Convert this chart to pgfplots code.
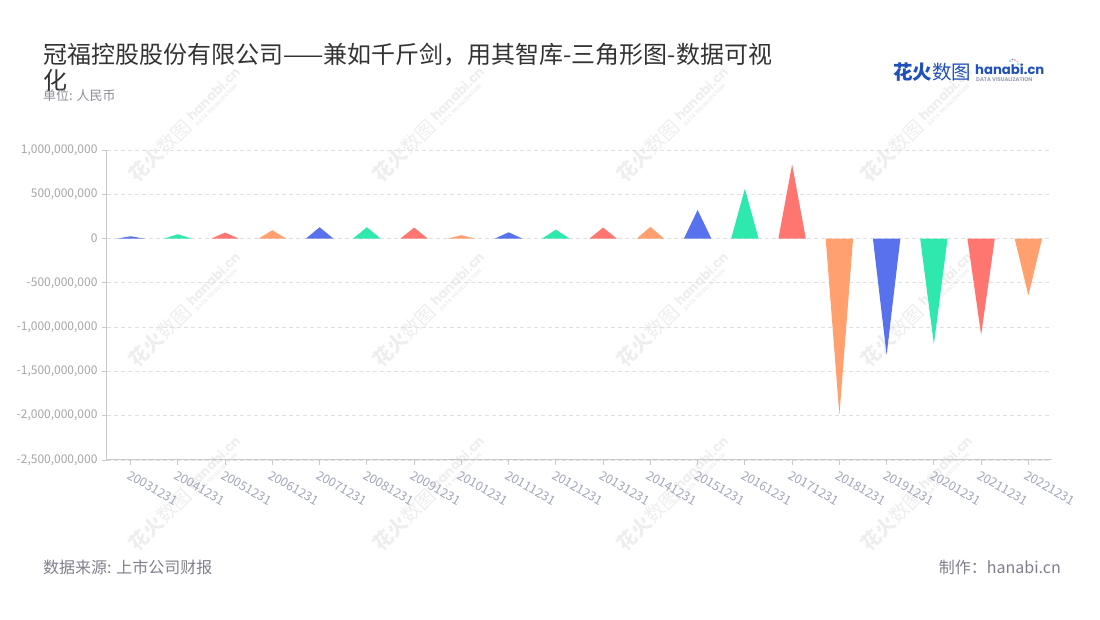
\documentclass[border=0pt]{standalone}
\usepackage{fontspec}
\setmainfont{Noto Sans CJK SC}
\newfontfamily\pop{Poppins}
\usepackage{pgfplots}
\pgfplotsset{compat=1.18}
\definecolor{cb}{RGB}{88,114,237}
\definecolor{cg}{RGB}{46,232,174}
\definecolor{cr}{RGB}{255,117,112}
\definecolor{co}{RGB}{255,160,110}
\definecolor{titlec}{RGB}{51,51,51}
\definecolor{subc}{RGB}{140,140,152}
\definecolor{footc}{RGB}{128,128,140}
\definecolor{axisgray}{RGB}{200,200,200}
\definecolor{gridc}{RGB}{224,224,224}
\definecolor{ylab}{RGB}{165,165,165}
\definecolor{xlab}{RGB}{160,165,185}
\definecolor{logob}{RGB}{32,80,185}
\definecolor{logog}{RGB}{150,160,180}
\definecolor{wmc}{RGB}{238,238,238}

\newcommand{\logoparts}[2]{%
  \node[anchor=base west, inner sep=0, text=#1, font=\fontsize{19.5}{20}\selectfont] at (-72pt,-8pt) {{\bfseries 花火}数图};
  \node[anchor=base west, inner sep=0, text=#1, font=\fontsize{13.2}{14}\selectfont\pop\bfseries] at (10pt,-3pt) {hanabi.cn};
  \node[anchor=base west, inner sep=0, text=#2, font=\fontsize{5.3}{6}\selectfont\pop\bfseries] at (11pt,-10pt) {DATA VISUALIZATION};
}
\newcommand{\wm}[2]{%
  \begin{scope}[shift={(#1pt,#2pt)}, rotate=45, transform shape]
    \logoparts{wmc}{wmc}
  \end{scope}}

\begin{document}
\begin{tikzpicture}
\path[use as bounding box] (0,0) rectangle (1100pt,620pt);
% watermarks
\foreach \cx in {183,427,671,915}{
  \foreach \cy in {493,308,124}{
    \wm{\cx}{\cy}
  }
}
% titles
\node[anchor=base west, inner sep=0, text=titlec, font=\fontsize{24}{28}\selectfont] at (43pt,556.5pt) {冠福控股股份有限公司——兼如千斤剑，用其智库-三角形图-数据可视};
\node[anchor=base west, inner sep=0, text=titlec, font=\fontsize{24}{28}\selectfont] at (43pt,530.5pt) {化};
\node[anchor=base west, inner sep=0, text=subc, font=\fontsize{13}{14}\selectfont] at (43pt,519pt) {单位: 人民币};
% logo
\begin{scope}[shift={(965pt,548pt)}]
  \logoparts{logob}{logog}
  \fill[cr] (50pt,12pt) circle (0.9pt);
  \fill[co] (52.5pt,10.5pt) circle (0.9pt);
  \fill[cg] (53pt,8pt) circle (0.9pt);
  \fill[cb] (47.5pt,12.5pt) circle (0.9pt);
  \fill[cg!70!cb] (45pt,11pt) circle (0.9pt);
\end{scope}
% footer
\node[anchor=base west, inner sep=0, text=footc, font=\fontsize{16}{16}\selectfont] at (43pt,46pt) {数据来源: 上市公司财报};
\node[anchor=base east, inner sep=0, text=footc, font=\fontsize{16}{16}\selectfont] at (1061pt,46pt) {制作：hanabi.cn};

\begin{axis}[
  at={(107pt,160pt)}, anchor=south west,
  width=945pt, height=310pt, scale only axis,
  xmin=-0.5, xmax=19.5,
  ymin=-2500000000, ymax=1000000000,
  axis x line*=bottom, axis y line*=left,
  axis line style={-, draw=axisgray, line width=1pt},
  xtick={0,1,2,3,4,5,6,7,8,9,10,11,12,13,14,15,16,17,18,19},
  xticklabels={20031231,20041231,20051231,20061231,20071231,20081231,20091231,20101231,20111231,20121231,20131231,20141231,20151231,20161231,20171231,20181231,20191231,20201231,20211231,20221231},
  ytick={-2500000000,-2000000000,-1500000000,-1000000000,-500000000,0,500000000,1000000000},
  yticklabels={{-2,500,000,000},{-2,000,000,000},{-1,500,000,000},{-1,000,000,000},{-500,000,000},{0},{500,000,000},{1,000,000,000}},
  scaled y ticks=false,
  tick align=outside, major tick length=5pt,
  tick style={draw=axisgray, line width=0.8pt},
  ymajorgrids,
  grid style={draw=gridc, line width=0.8pt, dash pattern=on 4pt off 3pt},
  y tick label style={font=\fontsize{12}{12}\selectfont, text=ylab, xshift=-1pt},
  x tick label style={font=\fontsize{12.5}{12}\selectfont, text=xlab, rotate=-30, anchor=north west, xshift=-1pt, yshift=-1pt},
]
\addplot[fill=cb, draw=none] coordinates {(-0.29,0) (0,26000000) (0.29,0)};
\addplot[fill=cg, draw=none] coordinates {(0.71,0) (1,49000000) (1.29,0)};
\addplot[fill=cr, draw=none] coordinates {(1.71,0) (2,68000000) (2.29,0)};
\addplot[fill=co, draw=none] coordinates {(2.71,0) (3,94000000) (3.29,0)};
\addplot[fill=cb, draw=none] coordinates {(3.71,0) (4,128000000) (4.29,0)};
\addplot[fill=cg, draw=none] coordinates {(4.71,0) (5,128000000) (5.29,0)};
\addplot[fill=cr, draw=none] coordinates {(5.71,0) (6,124000000) (6.29,0)};
\addplot[fill=co, draw=none] coordinates {(6.71,0) (7,38000000) (7.29,0)};
\addplot[fill=cb, draw=none] coordinates {(7.71,0) (8,71000000) (8.29,0)};
\addplot[fill=cg, draw=none] coordinates {(8.71,0) (9,101000000) (9.29,0)};
\addplot[fill=cr, draw=none] coordinates {(9.71,0) (10,124000000) (10.29,0)};
\addplot[fill=co, draw=none] coordinates {(10.71,0) (11,132000000) (11.29,0)};
\addplot[fill=cb, draw=none] coordinates {(11.71,0) (12,323000000) (12.29,0)};
\addplot[fill=cg, draw=none] coordinates {(12.71,0) (13,564000000) (13.29,0)};
\addplot[fill=cr, draw=none] coordinates {(13.71,0) (14,838000000) (14.29,0)};
\addplot[fill=co, draw=none] coordinates {(14.71,0) (15,-1992000000) (15.29,0)};
\addplot[fill=cb, draw=none] coordinates {(15.71,0) (16,-1316000000) (16.29,0)};
\addplot[fill=cg, draw=none] coordinates {(16.71,0) (17,-1192000000) (17.29,0)};
\addplot[fill=cr, draw=none] coordinates {(17.71,0) (18,-1087000000) (18.29,0)};
\addplot[fill=co, draw=none] coordinates {(18.71,0) (19,-643000000) (19.29,0)};
\end{axis}
\end{tikzpicture}
\end{document}
